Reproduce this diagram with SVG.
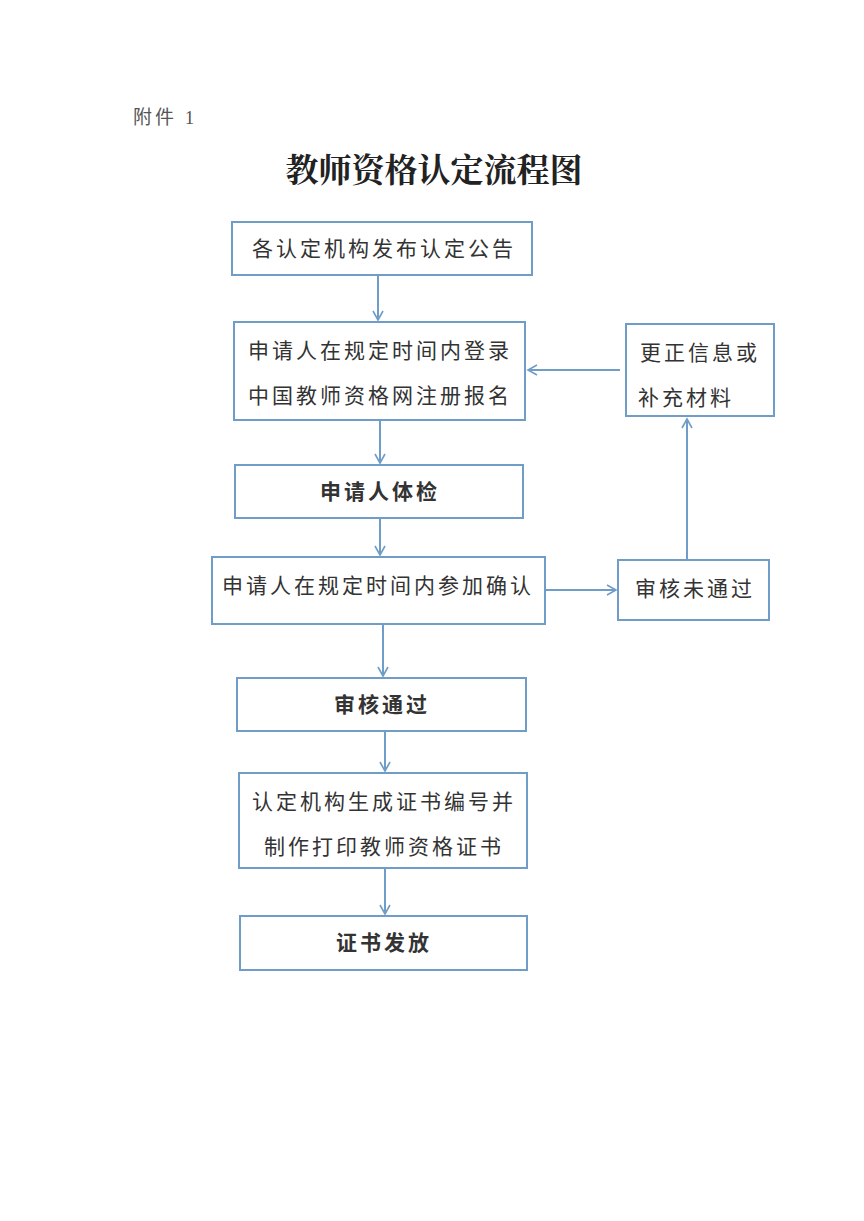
<svg xmlns="http://www.w3.org/2000/svg" width="864" height="1221" viewBox="0 0 864 1221">
<style>
.b{fill:#fff;stroke:#6f9dc8;stroke-width:2}
.c{fill:none;stroke:#6f9dc8;stroke-width:2}
.t{font-family:"Noto Sans CJK SC","Noto Sans CJK JP",sans-serif;font-size:21px;fill:#333;letter-spacing:3px;text-anchor:middle}
.tb{font-weight:bold}
</style>
<defs><marker id="a" markerWidth="12" markerHeight="12" refX="10" refY="6" orient="auto" markerUnits="userSpaceOnUse"><path d="M1,1 L10,6 L1,11" fill="none" stroke="#6f9dc8" stroke-width="1.6"/></marker></defs>
<rect width="864" height="1221" fill="#fff"/>
<text x="133" y="124" font-family="'Liberation Serif','Noto Sans CJK SC',serif" font-size="19" fill="#555" letter-spacing="3">附件 1</text>
<text x="434" y="182" font-family="'Noto Serif CJK SC','Noto Sans CJK SC',serif" font-size="33" font-weight="bold" fill="#222" text-anchor="middle">教师资格认定流程图</text>
<g id="connectors">
<path class="c" d="M378,276 V320" marker-end="url(#a)"/>
<path class="c" d="M380,421 V463" marker-end="url(#a)"/>
<path class="c" d="M380,519 V555" marker-end="url(#a)"/>
<path class="c" d="M383,625 V676" marker-end="url(#a)"/>
<path class="c" d="M385,732 V771" marker-end="url(#a)"/>
<path class="c" d="M385,869 V914" marker-end="url(#a)"/>
<path class="c" d="M546,590 H616" marker-end="url(#a)"/>
<path class="c" d="M687,559 V419" marker-end="url(#a)"/>
<path class="c" d="M620,370 H528" marker-end="url(#a)"/>
</g>
<g id="n1"><rect class="b" x="232" y="222" width="300" height="53"/><text class="t" x="384" y="256">各认定机构发布认定公告</text></g>
<g id="n2"><rect class="b" x="234" y="322" width="291" height="98"/><text class="t" x="380" y="358">申请人在规定时间内登录</text><text class="t" x="380" y="403">中国教师资格网注册报名</text></g>
<g id="n3"><rect class="b" x="235" y="465" width="288" height="53"/><text class="t tb" x="380" y="499">申请人体检</text></g>
<g id="n4"><rect class="b" x="212" y="557" width="333" height="67"/><text class="t" x="378" y="593">申请人在规定时间内参加确认</text></g>
<g id="n5"><rect class="b" x="237" y="678" width="289" height="53"/><text class="t tb" x="382" y="712">审核通过</text></g>
<g id="n6"><rect class="b" x="239" y="773" width="288" height="95"/><text class="t" x="384" y="809">认定机构生成证书编号并</text><text class="t" x="384" y="854">制作打印教师资格证书</text></g>
<g id="n7"><rect class="b" x="240" y="916" width="287" height="54"/><text class="t tb" x="384" y="950">证书发放</text></g>
<g id="n8"><rect class="b" x="626" y="324" width="148" height="92"/><text class="t" x="700" y="360">更正信息或</text><text class="t" x="686" y="405">补充材料</text></g>
<g id="n9"><rect class="b" x="618" y="560" width="151" height="60"/><text class="t" x="695" y="596">审核未通过</text></g>
</svg>
